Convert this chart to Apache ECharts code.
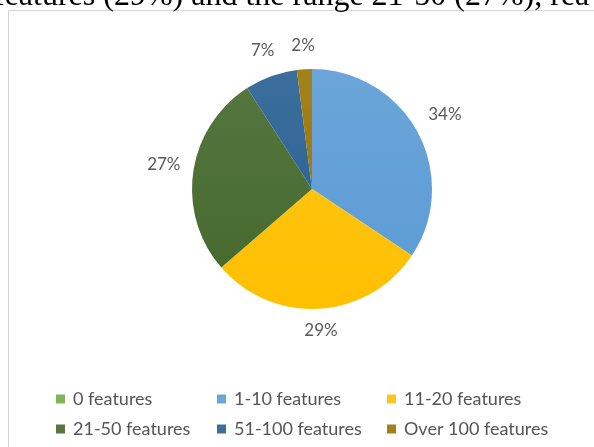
<!DOCTYPE html>
<html>
<head>
<meta charset="utf-8">
<script src="https://cdn.jsdelivr.net/npm/echarts@6/dist/echarts.min.js"></script>
<style>
  html, body { margin: 0; padding: 0; background: #fff; }
  #chart { width: 594px; height: 447px; }
</style>
</head>
<body>
<div id="chart"></div>
<script>
// Share of items by number of features
const categories = ['0 features', '1-10 features', '11-20 features', '21-50 features', '51-100 features', 'Over 100 features'];
const shares = [0, 34, 29, 27, 7, 2];
const palette = ['#70AD47', '#5B9BD5', '#FFC000', '#43682B', '#255E91', '#997300'];
const sentence = 'features (29%) and the range 21-50 (27%), rea';

const CX = 312, CY = 189, R = 120, LABEL_GAP = 12;

function lighten(hex, t) {
  const n = parseInt(hex.slice(1), 16);
  const r = (n >> 16) & 255, g = (n >> 8) & 255, b = n & 255;
  const m = c => Math.round(c + (255 - c) * t);
  return 'rgb(' + m(r) + ',' + m(g) + ',' + m(b) + ')';
}

function sliceColor(hex) {
  return {
    type: 'linear', global: true,
    x: 0, y: CY - R, x2: 0, y2: CY + R,
    colorStops: [
      { offset: 0, color: lighten(hex, 0.1) },
      { offset: 1, color: hex }
    ]
  };
}

const total = shares.reduce((a, b) => a + b, 0);
const cumulative = [];
shares.reduce((acc, v, i) => { cumulative[i] = acc; return acc + v; }, 0);

const pieData = categories.map((name, i) => ({
  name: name,
  value: shares[i],
  itemStyle: { color: sliceColor(palette[i]) },
  label: { show: shares[i] > 0 }
}));

const legendText = { color: '#555555', fontFamily: 'Lato', fontSize: 18, padding: [0, 0, 0, 3] };
function legendColumn(names, left) {
  return {
    orient: 'vertical', left: left, top: 385,
    itemWidth: 9, itemHeight: 9, itemGap: 12,
    icon: 'rect',
    selectedMode: false,
    textStyle: legendText,
    data: names
  };
}

const chart = echarts.init(document.getElementById('chart'), null, { renderer: 'canvas' });
chart.setOption({
  backgroundColor: '#fff',
  animation: false,
  graphic: [
    {
      type: 'rect', z: -10, silent: true,
      shape: { x: 8.5, y: 10.5, width: 640, height: 480 },
      style: { fill: '#fff', stroke: '#d4d4d4', lineWidth: 1 }
    },
    {
      type: 'text', z: 10, silent: true,
      style: {
        x: -6, y: -3, text: sentence, fill: '#000',
        font: '32px "Liberation Serif"', align: 'left', verticalAlign: 'middle'
      }
    }
  ],
  legend: [
    legendColumn([categories[0], categories[3]], 51),
    legendColumn([categories[1], categories[4]], 212),
    legendColumn([categories[2], categories[5]], 382)
  ],
  series: [{
    type: 'pie',
    center: [CX, CY],
    radius: R,
    startAngle: 90,
    clockwise: true,
    avoidLabelOverlap: false,
    minShowLabelAngle: 0,
    itemStyle: { borderWidth: 0 },
    emphasis: { disabled: true },
    label: {
      position: 'outside',
      formatter: '{c}%',
      color: '#595959',
      fontFamily: 'Lato',
      fontSize: 17
    },
    labelLine: { show: false },
    labelLayout: function (params) {
      const i = params.dataIndex;
      const mid = (cumulative[i] + shares[i] / 2) / total * Math.PI * 2;
      const dx = Math.sin(mid), dy = -Math.cos(mid);
      const w = params.labelRect.width, h = params.labelRect.height;
      const d = R + LABEL_GAP + Math.abs(dx) * w / 2 + Math.abs(dy) * h / 2;
      const lift = dy > 0.5 ? 0 : 3;
      return { x: CX + dx * d, y: CY + dy * d - lift, align: 'center', verticalAlign: 'middle' };
    },
    data: pieData
  }]
});
</script>
</body>
</html>
